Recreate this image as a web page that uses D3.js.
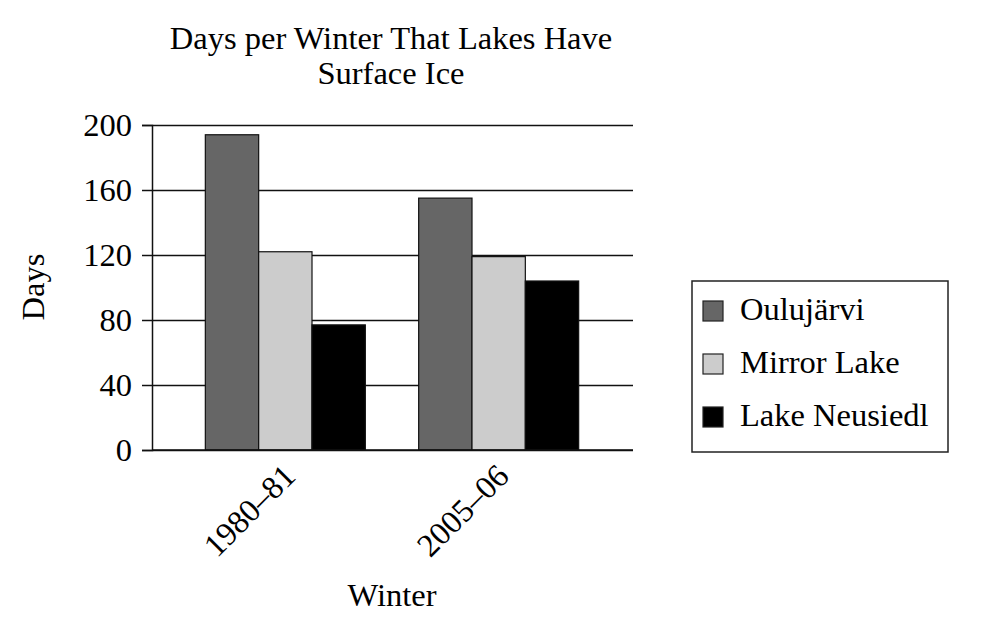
<!DOCTYPE html>
<html>
<head>
<meta charset="utf-8">
<script src="https://cdn.jsdelivr.net/npm/d3@7"></script>
<style>
  body { margin: 0; background: #fff; }
  text { font-family: "Liberation Serif", "Times New Roman", serif; fill: #000; }
</style>
</head>
<body>
<svg id="chart" width="1000" height="636"></svg>
<script>
const winters = ['1980–81', '2005–06'];
const lakes = ['Oulujärvi', 'Mirror Lake', 'Lake Neusiedl'];
const oulujarvi = [194, 155];
const mirrorLake = [122, 119];
const lakeNeusiedl = [77, 104];
const yTicks = [0, 40, 80, 120, 160, 200];
const lakeColors = ['#666666', '#cccccc', '#000000'];

const series = [oulujarvi, mirrorLake, lakeNeusiedl];
const data = [];
winters.forEach((w, i) => {
    lakes.forEach((l, j) => {
        data.push({ winter: w, lake: l, value: series[j][i] });
    });
});

const width = 1000;
const height = 636;
const margin = { top: 125, right: 367, bottom: 186, left: 152 };
const innerWidth = width - margin.left - margin.right;
const innerHeight = height - margin.top - margin.bottom;
const fontSize = 32.5;

const svg = d3.select('#chart');
const g = svg.append('g')
    .attr('transform', `translate(${margin.left},${margin.top})`);

const xScale = d3.scaleBand()
    .domain(winters)
    .range([0, innerWidth - 1])
    .paddingInner(0.25)
    .paddingOuter(0.25);

const xInner = d3.scaleBand()
    .domain(lakes)
    .range([0, xScale.bandwidth()]);

const yScale = d3.scaleLinear()
    .domain([0, 200])
    .range([innerHeight, 0]);

const colorScale = d3.scaleOrdinal()
    .domain(lakes)
    .range(lakeColors);

// gridlines
const gridG = g.append('g')
    .attr('class', 'grid')
    .call(d3.axisLeft(yScale).tickValues(yTicks).tickSize(-innerWidth).tickFormat(''));
gridG.select('.domain').remove();
gridG.selectAll('line')
    .attr('stroke', '#111')
    .attr('stroke-width', 1.5);

// bars
g.append('g')
    .selectAll('rect')
    .data(data)
    .enter().append('rect')
    .attr('x', d => xScale(d.winter) + xInner(d.lake))
    .attr('y', d => yScale(d.value))
    .attr('width', xInner.bandwidth())
    .attr('height', d => innerHeight - yScale(d.value))
    .attr('fill', d => colorScale(d.lake))
    .attr('stroke', '#111')
    .attr('stroke-width', 1.2);

// baseline
g.append('line')
    .attr('x1', 0)
    .attr('x2', innerWidth)
    .attr('y1', yScale(0))
    .attr('y2', yScale(0))
    .attr('stroke', '#111')
    .attr('stroke-width', 1.5);

// y axis
const yAxisG = g.append('g')
    .attr('class', 'yAxis')
    .call(d3.axisLeft(yScale).tickValues(yTicks).tickSize(10).tickPadding(10));
yAxisG.selectAll('line, path')
    .attr('stroke', '#111')
    .attr('stroke-width', 1.5);
yAxisG.selectAll('text')
    .attr('font-size', fontSize)
    .attr('font-family', '"Liberation Serif", serif')
    .attr('fill', '#000');

// x tick labels
g.append('g')
    .selectAll('text')
    .data(winters)
    .enter().append('text')
    .attr('transform', d => `translate(${xScale(d) + xScale.bandwidth() / 2 + 12},${innerHeight + 28}) rotate(-45)`)
    .attr('text-anchor', 'end')
    .attr('font-size', fontSize)
    .text(d => d);

// axis titles
svg.append('text')
    .attr('x', 392)
    .attr('y', 606)
    .attr('text-anchor', 'middle')
    .attr('font-size', fontSize)
    .text('Winter');

svg.append('text')
    .attr('transform', `translate(44,287) rotate(-90)`)
    .attr('text-anchor', 'middle')
    .attr('font-size', fontSize)
    .text('Days');

// title
const title = svg.append('text')
    .attr('text-anchor', 'middle')
    .attr('font-size', fontSize);
title.append('tspan').attr('x', 391).attr('y', 49).text('Days per Winter That Lakes Have');
title.append('tspan').attr('x', 391).attr('y', 84).text('Surface Ice');

// legend
const legend = svg.append('g')
    .attr('transform', 'translate(692,281)');
legend.append('rect')
    .attr('width', 256)
    .attr('height', 171)
    .attr('fill', '#fff')
    .attr('stroke', '#222')
    .attr('stroke-width', 1.5);

const legendItem = legend.selectAll('.item')
    .data(lakes)
    .enter().append('g')
    .attr('class', 'item')
    .attr('transform', (d, i) => `translate(0,${20 + i * 53})`);
legendItem.append('rect')
    .attr('x', 11)
    .attr('width', 20)
    .attr('height', 20)
    .attr('fill', d => colorScale(d))
    .attr('stroke', '#222')
    .attr('stroke-width', 1.2);
legendItem.append('text')
    .attr('x', 48)
    .attr('y', 19)
    .attr('font-size', fontSize)
    .text(d => d);
</script>
</body>
</html>
